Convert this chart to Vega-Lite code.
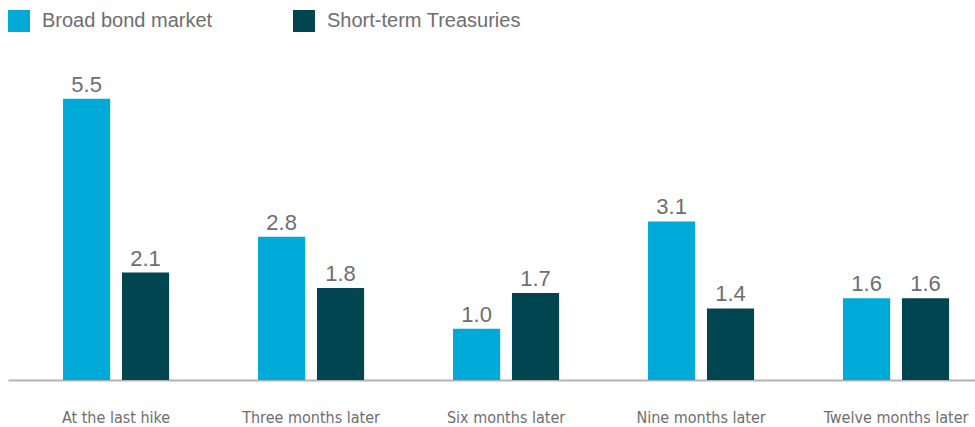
{
  "$schema": "https://vega.github.io/schema/vega-lite/v6.json",
  "autosize": "none",
  "width": 967,
  "height": 358,
  "padding": {"left": 8, "top": 22, "right": 0, "bottom": 47},
  "background": "white",
  "config": {"view": {"stroke": null}},
  "data": {
    "values": [
      {"period": "At the last hike", "series": "Broad bond market", "value": 5.5},
      {"period": "At the last hike", "series": "Short-term Treasuries", "value": 2.1},
      {"period": "Three months later", "series": "Broad bond market", "value": 2.8},
      {"period": "Three months later", "series": "Short-term Treasuries", "value": 1.8},
      {"period": "Six months later", "series": "Broad bond market", "value": 1.0},
      {"period": "Six months later", "series": "Short-term Treasuries", "value": 1.7},
      {"period": "Nine months later", "series": "Broad bond market", "value": 3.1},
      {"period": "Nine months later", "series": "Short-term Treasuries", "value": 1.4},
      {"period": "Twelve months later", "series": "Broad bond market", "value": 1.6},
      {"period": "Twelve months later", "series": "Short-term Treasuries", "value": 1.6}
    ]
  },
  "encoding": {
    "x": {
      "field": "period",
      "type": "nominal",
      "sort": null,
      "title": null,
      "scale": {"paddingInner": 0.456, "paddingOuter": 0.2075, "align": 0.68},
      "axis": {
        "domainColor": "#b3b3b3",
        "domainWidth": 2,
        "ticks": false,
        "labelAngle": 0,
        "labelFont": "DejaVu Sans Condensed",
        "labelFontSize": 16,
        "labelColor": "#6d6e71",
        "labelPadding": 29,
        "labelLimit": 300,
        "grid": false
      }
    },
    "xOffset": {
      "field": "series",
      "type": "nominal",
      "sort": ["Broad bond market", "Short-term Treasuries"],
      "scale": {"paddingInner": 0.2, "paddingOuter": 0}
    },
    "y": {
      "field": "value",
      "type": "quantitative",
      "scale": {"domain": [0, 7]},
      "axis": null
    }
  },
  "layer": [
    {
      "mark": {"type": "bar"},
      "encoding": {
        "color": {
          "field": "series",
          "type": "nominal",
          "sort": ["Broad bond market", "Short-term Treasuries"],
          "scale": {"domain": ["Broad bond market", "Short-term Treasuries"], "range": ["#00aad8", "#00454f"]},
          "legend": {
            "title": null,
            "orient": "none",
            "legendX": 0,
            "legendY": -12,
            "direction": "horizontal",
            "symbolType": "square",
            "symbolSize": 484,
            "symbolStrokeWidth": 0,
            "symbolOpacity": 1,
            "labelFont": "Liberation Sans",
            "labelFontSize": 20,
            "labelColor": "#6d6e71",
            "labelOffset": 12,
            "labelLimit": 400,
            "columnPadding": 80
          }
        }
      }
    },
    {
      "mark": {"type": "text", "dy": -7, "baseline": "alphabetic", "font": "Liberation Sans", "fontSize": 22, "color": "#6d6e71"},
      "encoding": {
        "text": {"field": "value", "type": "quantitative", "format": ".1f"}
      }
    }
  ]
}
